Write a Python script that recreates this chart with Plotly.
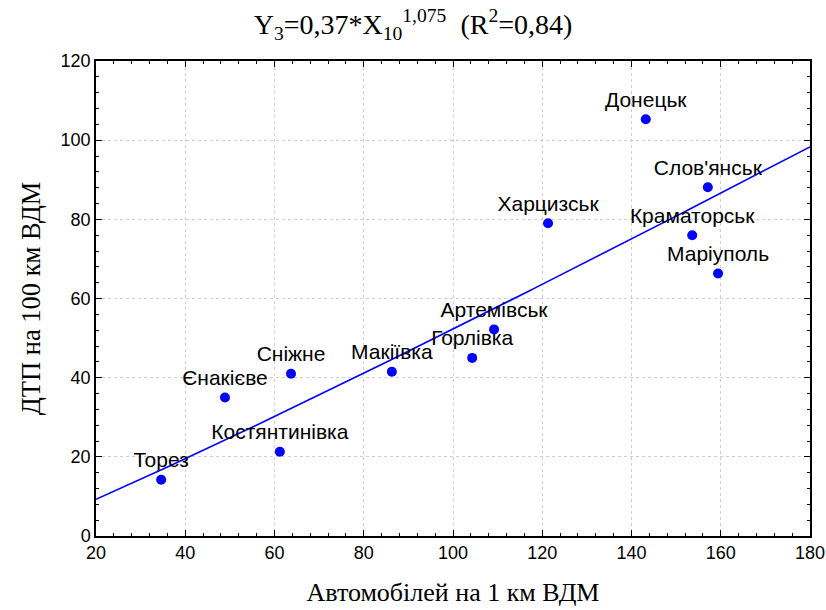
import numpy as np
import plotly.graph_objects as go

cities = ["Торез", "Єнакієве", "Костянтинівка", "Сніжне", "Макіївка", "Горлівка",
          "Артемівськ", "Харцизськ", "Донецьк", "Слов'янськ", "Краматорськ", "Маріуполь"]
cars_per_km = [34.6, 48.9, 61.2, 63.7, 86.3, 104.3, 109.2, 121.3, 143.2, 157.1, 153.6, 159.4]
accidents_per_100km = [14.2, 35.0, 21.3, 41.0, 41.5, 45.0, 52.2, 79.0, 105.3, 88.1, 76.0, 66.3]

fit_a = 0.37
fit_b = 1.075
x_range = [20, 180]
y_range = [0, 120]

xf = np.linspace(x_range[0], x_range[1], 200)
yf = fit_a * xf ** fit_b

fig = go.Figure()
fig.add_trace(go.Scatter(x=xf, y=yf, mode="lines", line=dict(color="#0000FF", width=1.6),
                         hoverinfo="skip", showlegend=False))
fig.add_trace(go.Scatter(x=cars_per_km, y=accidents_per_100km, mode="markers+text",
                         text=cities, textposition="top center",
                         textfont=dict(family="Liberation Sans, Arial", size=21, color="#000000"),
                         marker=dict(color="#0000FF", size=10), showlegend=False))

axis_common = dict(
    showline=True, linecolor="black", linewidth=1.5, mirror="ticks",
    ticks="inside", ticklen=6, tickwidth=1.2, tickcolor="black",
    showgrid=True, gridcolor="#cfcfcf", griddash="dot", gridwidth=1,
    zeroline=False, automargin=False,
    tickfont=dict(family="Liberation Sans, Arial", size=18, color="black"),
    minor=dict(ticks="inside", ticklen=3, tickcolor="black", tickwidth=1, dtick=4, showgrid=False),
)

fig.update_xaxes(range=x_range, dtick=20, tick0=20, **axis_common,
                 title=dict(text="Автомобілей на 1 км ВДМ",
                            font=dict(family="Liberation Serif, Times New Roman", size=26, color="black"),
                            standoff=20))
fig.update_yaxes(range=y_range, dtick=20, tick0=0, **axis_common,
                 title=dict(text="ДТП на 100 км ВДМ",
                            font=dict(family="Liberation Serif, Times New Roman", size=26.5, color="black"),
                            standoff=12))

fig.update_layout(
    width=826, height=610,
    margin=dict(l=96, r=16, t=61, b=74),
    paper_bgcolor="white", plot_bgcolor="white",
    title=dict(text="Y<sub>3</sub>=0,37*X<sub>10</sub><sup>1,075</sup>  (R<sup>2</sup>=0,84)",
               x=0.5, xanchor="center", y=0.96, yanchor="middle",
               font=dict(family="Liberation Serif, Times New Roman", size=28, color="black")),
)

fig.write_html("out.html", config={"displayModeBar": False},
               post_script="document.body.style.margin='0';document.body.style.overflow='hidden';")
